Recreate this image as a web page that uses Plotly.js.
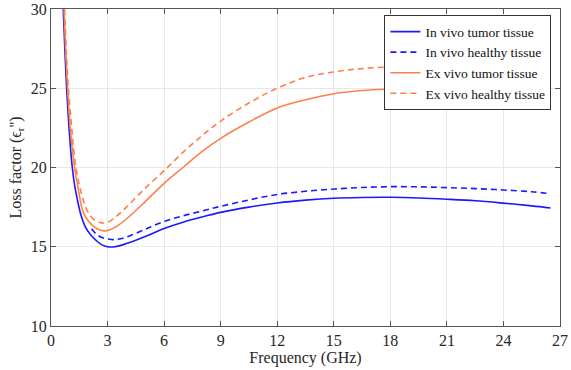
<!DOCTYPE html>
<html>
<head>
<meta charset="utf-8">
<script src="https://cdn.plot.ly/plotly-3.0.1.min.js"></script>
<style>
  html, body { margin: 0; padding: 0; background: #fff; }
  #plot { width: 571px; height: 370px; }
</style>
</head>
<body>
<div id="plot"></div>
<script>
// In vivo tumor tissue
var xInTumor = [0.65, 0.74, 0.83, 0.95, 1.05, 1.13, 1.25, 1.41, 1.6, 1.8, 2.1, 2.42, 2.7, 3.0, 3.4, 4, 5, 6, 7, 8, 9, 10.5, 12, 13.5, 15, 16.5, 18, 19.5, 21, 22.5, 24, 25.5, 26.5];
var yInTumor = [30, 27.3, 25, 22.6, 21.0, 20.0, 18.9, 17.9, 16.95, 16.3, 15.75, 15.37, 15.12, 15.0, 15.0, 15.2, 15.65, 16.15, 16.55, 16.88, 17.17, 17.5, 17.76, 17.94, 18.06, 18.11, 18.12, 18.08, 18.0, 17.9, 17.75, 17.58, 17.45];

// In vivo healthy tissue
var xInHealthy = [2.15, 2.4, 2.7, 3.0, 3.3, 3.7, 4.2, 5, 6, 7, 8, 9, 10.5, 12, 13.5, 15, 16.5, 18, 19.5, 21, 22.5, 24, 25.5, 26.5];
var yInHealthy = [16.14, 15.8, 15.58, 15.5, 15.45, 15.5, 15.7, 16.1, 16.6, 16.95, 17.25, 17.55, 17.95, 18.3, 18.5, 18.64, 18.74, 18.79, 18.78, 18.73, 18.67, 18.58, 18.47, 18.35];

// Ex vivo tumor tissue
var xExTumor = [0.69, 0.78, 0.88, 1.0, 1.12, 1.25, 1.45, 1.7, 2.0, 2.3, 2.6, 2.8, 3.1, 3.5, 4, 5, 6, 7, 8, 9, 10.5, 12, 13.5, 15, 16.5, 18, 19.5, 21, 22.5, 24, 25.5, 26.5];
var yExTumor = [30, 27.3, 25, 22.8, 21.3, 20, 18.6, 17.2, 16.6, 16.25, 16.05, 16.0, 16.05, 16.3, 16.75, 17.85, 19.0, 20.0, 21.0, 21.84, 22.87, 23.76, 24.27, 24.65, 24.86, 24.94, 24.85, 24.69, 24.48, 24.24, 23.95, 23.7];

// Ex vivo healthy tissue
var xExHealthy = [0.72, 0.82, 0.92, 1.05, 1.15, 1.3, 1.5, 1.75, 2.0, 2.3, 2.6, 2.8, 3.1, 3.5, 4, 5, 6, 7, 8, 9, 10.5, 12, 13.5, 15, 16.5, 18, 19.5, 21, 22.5, 24, 25.5, 26.5];
var yExHealthy = [30, 27.2, 25, 23.2, 21.8, 20.2, 18.9, 17.8, 17.1, 16.7, 16.53, 16.5, 16.6, 16.95, 17.5, 18.7, 19.8, 20.95, 22.0, 22.93, 24.07, 25.0, 25.68, 26.03, 26.24, 26.34, 26.38, 26.35, 26.27, 26.15, 26.02, 25.9];

var xTicks = [0, 3, 6, 9, 12, 15, 18, 21, 24, 27];
var yTicks = [10, 15, 20, 25, 30];

var blue = '#1a1aff';
var orange = '#ff7f4d';

var traces = [
  { x: xInTumor, y: yInTumor, name: 'In vivo tumor tissue', type: 'scatter', mode: 'lines',
    line: { color: blue, width: 1.6, shape: 'spline' } },
  { x: xInHealthy, y: yInHealthy, name: 'In vivo healthy tissue', type: 'scatter', mode: 'lines',
    line: { color: blue, width: 1.6, dash: '6px,4px', shape: 'spline' } },
  { x: xExTumor, y: yExTumor, name: 'Ex vivo tumor tissue', type: 'scatter', mode: 'lines',
    line: { color: orange, width: 1.6, shape: 'spline' } },
  { x: xExHealthy, y: yExHealthy, name: 'Ex vivo healthy tissue', type: 'scatter', mode: 'lines',
    line: { color: orange, width: 1.6, dash: '6px,4px', shape: 'spline' } }
];

var axisFont = { family: 'Liberation Serif, Times New Roman, serif', size: 16, color: '#262626' };

var layout = {
  width: 571,
  height: 370,
  margin: { l: 51, r: 11, t: 9, b: 44 },
  paper_bgcolor: '#fff',
  plot_bgcolor: '#fff',
  showlegend: true,
  legend: {
    x: 0.655, y: 0.98, xanchor: 'left', yanchor: 'top',
    bgcolor: '#fff', bordercolor: '#333', borderwidth: 1,
    font: { family: 'Liberation Serif, serif', size: 13.5, color: '#111' },
    tracegroupgap: 0
  },
  xaxis: {
    range: [0, 27],
    tickvals: xTicks,
    ticks: 'inside', ticklen: 5, tickcolor: '#555',
    showline: true, linecolor: '#555', linewidth: 1, mirror: 'ticks',
    showgrid: true, gridcolor: '#e8e8e8',
    zeroline: false,
    ticklabeloverflow: 'allow',
    tickfont: axisFont,
    title: { text: 'Frequency (GHz)', font: axisFont, standoff: 3 }
  },
  yaxis: {
    range: [10, 30],
    tickvals: yTicks,
    ticks: 'inside', ticklen: 5, tickcolor: '#555',
    showline: true, linecolor: '#555', linewidth: 1, mirror: 'ticks',
    showgrid: true, gridcolor: '#e8e8e8',
    zeroline: false,
    ticklabeloverflow: 'allow',
    tickfont: axisFont,
    title: { text: "Loss factor (ϵ<sub>r</sub>'')", font: axisFont, standoff: 5 }
  }
};

Plotly.newPlot('plot', traces, layout, { displayModeBar: false, staticPlot: true });
</script>
</body>
</html>
